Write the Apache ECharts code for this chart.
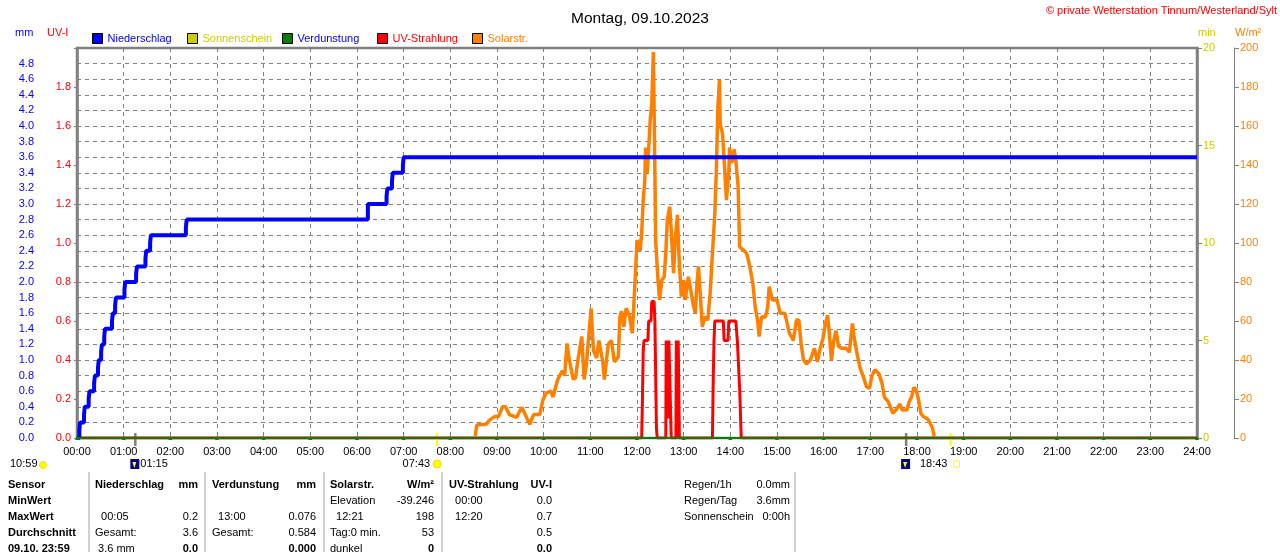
<!DOCTYPE html>
<html>
  <head>
    <meta charset="utf-8" />
    <title>Montag, 09.10.2023</title>
    <script src="https://cdn.jsdelivr.net/npm/echarts@6/dist/echarts.min.js"></script>
    <style>
      body { margin: 0; background: #fff; }
    </style>
  </head>

  <body>
    <div id="main" style="width: 1280px; height: 552px;"></div>
    <script type="text/javascript">
      // x axis runs in minutes since midnight
      // Niederschlag, kumuliert [min, mm]
      const rainSteps = [
        [0, 0], [2, 0], [3, 0.1], [4, 0.2], [9, 0.3], [10, 0.4], [15, 0.5], [16, 0.6],
        [22, 0.7], [23, 0.8], [27, 0.9], [28, 1.0], [31, 1.1], [32, 1.2], [35, 1.3], [36, 1.4],
        [45, 1.5], [46, 1.6], [49, 1.7], [50, 1.8], [61, 1.9], [62, 2.0], [76, 2.1], [77, 2.2],
        [88, 2.3], [89, 2.4], [94, 2.5], [95, 2.6], [140, 2.7], [141, 2.8], [374, 3.0],
        [398, 3.1], [399, 3.2], [405, 3.3], [406, 3.4], [419, 3.5], [420, 3.6], [1440, 3.6],
      ];

      // Verdunstung je Stunde (mm)
      const evapHourly = [0, 0, 0, 0, 0, 0, 0, 0, 0, 0, 0, 0, 0, 0, 0, 0, 0, 0, 0, 0, 0, 0, 0, 0, 0];

      // UV-Strahlung [min, UV-I]
      const uvPoints = [
        [0, 0], [726, 0], [727, 0.2], [728, 0.45], [729, 0.5], [734, 0.5], [735, 0.6], [738, 0.6],
        [739, 0.7], [742, 0.7], [743, 0.6], [744.5, 0.6], [745, 0.05], [746, 0], [757, 0],
        [757.5, 0.5], [759, 0.5], [760, 0.1], [761, 0.5], [763, 0.5], [764, 0], [770, 0],
        [770.5, 0.5], [772, 0.5], [772.5, 0], [773, 0.5], [774, 0.5], [774.5, 0], [817, 0],
        [818, 0.3], [819, 0.5], [820, 0.6], [831, 0.6], [832, 0.5], [837, 0.5], [838, 0.6],
        [847, 0.6], [849, 0.5], [851, 0.5], [852, 0.25], [853, 0.25], [854, 0], [1440, 0],
      ];

      // Solarstrahlung [min, W/m²]
      const solarPoints = [
        [512, 1], [514, 6.7], [526, 7], [530, 9], [537, 11], [542, 11], [547, 16], [551, 16],
        [556, 12], [565, 10.6], [572, 15.7], [582, 7], [587, 12], [595, 12], [599, 19.5],
        [603, 23], [609, 24], [612, 21], [618, 30], [624, 34.5], [627, 32], [630, 48.5],
        [633, 40], [638, 30], [641, 31], [644, 40], [649, 52], [652, 30], [655, 38], [657, 47.7],
        [661, 66.5], [664, 45], [668, 41], [671, 50], [676, 39], [678, 30], [683, 48], [687, 50],
        [691, 39], [696, 41.7], [698, 62], [700, 65], [703, 57], [706, 66.5], [710, 63],
        [714, 53.7], [716, 69], [718, 84.5], [720, 101.5], [724, 96], [726, 105], [728, 122],
        [730, 132], [731, 149], [733, 136], [735, 148], [737, 163], [739, 171.6], [741, 198],
        [742, 170], [744, 101.5], [747, 81], [749, 70.8], [752, 81], [755, 82.7], [757, 94.7],
        [759, 111.8], [762, 118.6], [764, 106.7], [767, 84.5], [769, 101.5], [772, 114.4],
        [774, 93], [777, 72.5], [780, 81], [782, 70.8], [786, 82.7], [789, 76], [792, 69],
        [795, 64], [797, 79], [799, 88], [801, 76], [804, 57], [807, 62], [811, 60.5], [814, 74],
        [817, 94.7], [820, 115], [822, 137], [824, 170], [826, 183.6], [827, 161], [830, 156],
        [833, 136], [835, 122], [838, 136], [839, 149], [842, 141], [845, 148], [847, 142.6],
        [850, 129], [852, 98], [857, 96.4], [861, 94.7], [865, 88], [869, 79], [872, 67],
        [875, 60.5], [877, 52], [880, 62], [885, 62], [888, 67], [890, 77.6], [892, 78.5],
        [894, 70.8], [900, 70.8], [904, 64], [910, 64], [916, 53.7], [921, 50], [925, 60.5],
        [928, 60.5], [931, 48.5], [934, 40], [938, 38], [943, 40], [948, 46], [952, 39],
        [955, 45], [959, 51], [962, 58], [965, 63], [967, 55], [970, 40], [973, 50], [976, 55],
        [979, 47], [983, 46], [989, 46], [993, 44], [997, 58.8], [999, 52], [1003, 43],
        [1007, 35.7], [1011, 31.4], [1015, 26.3], [1019, 25.5], [1022, 32], [1026, 35],
        [1031, 33], [1035, 28], [1038, 21], [1043, 18.6], [1049, 12.7], [1053, 14.4],
        [1058, 17.4], [1061, 14.4], [1067, 14.4], [1070, 18.6], [1073, 21], [1076, 26],
        [1079, 24.6], [1082, 19.5], [1085, 12.7], [1088, 11], [1094, 9.6], [1097, 7.5],
        [1100, 5], [1102, 1],
      ];

      // Sonne / Mond (Minuten)
      const moonRise = 75, moonSet = 1066, sunRise = 463, sunSet = 1123;
      const moonRiseLabel = "01:15", sunRiseLabel = "07:43", sunSetLabel = "18:43";
      const dayLengthLabel = "10:59";

      // Tabelle unten
      const tableRows = [
        ["Sensor", "Niederschlag", "mm", "Verdunstung", "mm", "Solarstr.", "W/m²", "UV-Strahlung", "UV-I"],
        ["MinWert", "", "", "", "", "Elevation", "-39.246", "  00:00", "0.0"],
        ["MaxWert", "  00:05", "0.2", "  13:00", "0.076", "  12:21", "198", "  12:20", "0.7"],
        ["Durchschnitt", "Gesamt:", "3.6", "Gesamt:", "0.584", "Tag:0 min.", "53", "", "0.5"],
        ["09.10. 23:59", " 3.6 mm", "0.0", "", "0.000", "dunkel", "0", "", "0.0"],
      ];
      const sideRows = [
        ["Regen/1h", "0.0mm"],
        ["Regen/Tag", "3.6mm"],
        ["Sonnenschein", "0:00h"],
      ];

      const FONT = "Liberation Sans";
      const pad = n => (n < 10 ? "0" : "") + n;

      const myChart = echarts.init(document.getElementById("main"));

      const legendItem = (name, color, left) => ({
        left: left,
        top: 28,
        itemWidth: 10,
        itemHeight: 10,
        icon: "rect",
        itemStyle: { borderColor: "#000", borderWidth: 1 },
        textStyle: { color: color, fontSize: 11, fontFamily: FONT },
        selectedMode: false,
        data: [name],
      });

      const option = {
        animation: false,
        title: {
          text: "Montag, 09.10.2023",
          left: "center",
          top: 6,
          textStyle: { fontSize: 15.5, fontWeight: "normal", color: "#000", fontFamily: FONT },
        },
        legend: [
          legendItem("Niederschlag", "#0000ff", 87),
          legendItem("Sonnenschein", "#cccc00", 182),
          legendItem("Verdunstung", "#0000ff", 277),
          legendItem("UV-Strahlung", "#ff0000", 372),
          legendItem("Solarstr.", "#ff8000", 467),
        ],
        grid: {
          left: 77,
          right: 83,
          top: 48,
          bottom: 114,
          show: true,
          borderColor: "#808080",
          borderWidth: 2.5,
        },
        xAxis: {
          type: "value",
          min: 0,
          max: 1440,
          interval: 60,
          axisLine: { lineStyle: { color: "#808080" } },
          axisTick: { show: false },
          axisLabel: {
            color: "#000",
            fontSize: 11,
            fontFamily: FONT,
            margin: 8,
            formatter: v => pad(Math.round(v / 60)) + ":00",
          },
          splitLine: { show: true, lineStyle: { color: "#808080", type: [4, 4] } },
        },
        yAxis: [
          {
            type: "value",
            min: 0,
            max: 5,
            interval: 0.2,
            position: "left",
            offset: 37,
            axisLine: { show: true, lineStyle: { color: "#808080" } },
            axisTick: { show: true, inside: true, length: 3, lineStyle: { color: "#808080" } },
            axisLabel: {
              color: "#0000ff",
              fontSize: 11,
              fontFamily: FONT,
              margin: 6,
              formatter: v => (v > 4.9 ? "" : v.toFixed(1)),
            },
            splitLine: { show: true, lineStyle: { color: "#808080", type: [4, 4] } },
          },
          {
            type: "value",
            min: 0,
            max: 2,
            interval: 0.2,
            position: "left",
            offset: 0,
            axisLine: { show: true, lineStyle: { color: "#808080", width: 2.5 } },
            axisTick: { show: true, length: 3, lineStyle: { color: "#808080" } },
            axisLabel: {
              color: "#ff0000",
              fontSize: 11,
              fontFamily: FONT,
              margin: 6,
              formatter: v => (v > 1.9 ? "" : v.toFixed(1)),
            },
            splitLine: { show: false },
          },
          {
            type: "value",
            min: 0,
            max: 20,
            interval: 5,
            position: "right",
            offset: 0,
            axisLine: { show: true, lineStyle: { color: "#808080", width: 2.5 } },
            axisTick: { show: true, length: 5, lineStyle: { color: "#808080" } },
            axisLabel: { color: "#cccc00", fontSize: 11, fontFamily: FONT, margin: 6 },
            splitLine: { show: false },
          },
          {
            type: "value",
            min: 0,
            max: 200,
            interval: 20,
            position: "right",
            offset: 37,
            axisLine: { show: true, lineStyle: { color: "#808080" } },
            axisTick: { show: true, length: 5, lineStyle: { color: "#808080" } },
            axisLabel: { color: "#ff8000", fontSize: 11, fontFamily: FONT, margin: 6 },
            splitLine: { show: false },
          },
        ],
        series: [
          {
            name: "Solarstr.",
            type: "line",
            yAxisIndex: 3,
            symbol: "none",
            color: "#ff8000",
            lineStyle: { width: 3.5, color: "#ff8000" },
            data: solarPoints,
          },
          {
            name: "UV-Strahlung",
            type: "line",
            yAxisIndex: 1,
            symbol: "none",
            color: "#ff0000",
            lineStyle: { width: 3, color: "#ff0000" },
            data: uvPoints,
          },
          {
            name: "Niederschlag",
            type: "line",
            yAxisIndex: 0,
            step: "end",
            symbol: "none",
            color: "#0000ff",
            lineStyle: { width: 4, color: "#0000ff" },
            data: rainSteps,
          },
          {
            name: "Sonnenschein",
            type: "line",
            color: "#cccc00",
            data: [],
          },
          {
            name: "Verdunstung",
            type: "line",
            yAxisIndex: 0,
            symbol: "triangle",
            symbolSize: 4,
            color: "#008000",
            lineStyle: { width: 2, color: "#008000" },
            itemStyle: { color: "#008000" },
            data: evapHourly.map((v, i) => [i * 60, v]),
          },
        ],
      };

      myChart.setOption(option);

      // Beschriftungen, Sonne/Mond und Tabelle
      const txt = (text, x, y, color, align, bold, size) => ({
        type: "text",
        silent: true,
        style: {
          text: text,
          x: x,
          y: y,
          fill: color || "#000",
          font: (bold ? "bold " : "") + (size || 11) + "px '" + FONT + "'",
          textAlign: align || "left",
          align: align || "left",
          textVerticalAlign: "middle",
          verticalAlign: "middle",
        },
      });
      const xp = m => myChart.convertToPixel({ xAxisIndex: 0 }, m);
      const y0 = myChart.convertToPixel({ yAxisIndex: 0 }, 0);

      const g = [];
      g.push(txt("© private Wetterstation Tinnum/Westerland/Sylt", 1277, 11, "#ff0000", "right"));
      g.push(txt("mm", 15, 33, "#0000ff"));
      g.push(txt("UV-I", 47, 33, "#ff0000"));
      g.push(txt("min", 1198, 33, "#cccc00"));
      g.push(txt("W/m²", 1235, 33, "#ff8000"));

      const tick = (m, color, w) => ({
        type: "line",
        silent: true,
        shape: { x1: xp(m), y1: y0 - 5, x2: xp(m), y2: y0 + 8 },
        style: { stroke: color, lineWidth: w },
      });
      const moonIcon = m => [
        { type: "rect", silent: true, shape: { x: xp(m) - 5, y: y0 + 21, width: 9, height: 10 }, style: { fill: "#000080" } },
        { type: "polygon", silent: true, shape: { points: [[xp(m) - 3, y0 + 24], [xp(m) + 1, y0 + 24], [xp(m) - 1, y0 + 30]] }, style: { fill: "#ffff00" } },
      ];
      g.push(tick(moonRise, "#808080", 2.5));
      g.push(tick(moonSet, "#808080", 2.5));
      g.push(tick(sunRise, "#ffff00", 2));
      g.push(tick(sunSet, "#ffff00", 2));
      g.push(...moonIcon(moonRise));
      g.push(...moonIcon(moonSet));
      g.push(txt(moonRiseLabel, xp(moonRise) + 5, y0 + 26));
      g.push(txt(sunRiseLabel, xp(sunRise) - 7, y0 + 26, "#000", "right"));
      g.push({ type: "circle", silent: true, shape: { cx: xp(sunRise), cy: y0 + 26, r: 4 }, style: { fill: "#ffff00", stroke: "#f0e000" } });
      g.push(txt(sunSetLabel, xp(sunSet) - 3, y0 + 26, "#000", "right"));
      g.push({ type: "rect", silent: true, shape: { x: xp(sunSet) + 3, y: y0 + 23, width: 6, height: 6 }, style: { fill: "none", stroke: "#ffff00", lineWidth: 1 } });
      g.push(txt(dayLengthLabel, 10, y0 + 26));
      g.push({ type: "circle", silent: true, shape: { cx: 43, cy: y0 + 27, r: 3.5 }, style: { fill: "#ffff00", stroke: "#f0e000" } });

      // Tabelle
      const colX = [8, 95, 198, 212, 316, 330, 434, 449, 552];
      const colAlign = ["left", "left", "right", "left", "right", "left", "right", "left", "right"];
      const rowY = [485, 501, 517, 533, 549];
      tableRows.forEach((row, r) => {
        row.forEach((cell, c) => {
          if (!cell) return;
          const bold = r === 0 || c === 0 || (r === 4 && colAlign[c] === "right");
          g.push(txt(cell, colX[c], rowY[r], "#000", colAlign[c], bold));
        });
      });
      sideRows.forEach((row, r) => {
        g.push(txt(row[0], 684, rowY[r]));
        g.push(txt(row[1], 790, rowY[r], "#000", "right"));
      });
      [89, 205, 324, 442, 795].forEach(x => {
        g.push({ type: "line", silent: true, shape: { x1: x, y1: 472, x2: x, y2: 552 }, style: { stroke: "#a0a0a0", lineWidth: 1 } });
      });

      myChart.setOption({ graphic: g });
    </script>
  </body>
</html>
